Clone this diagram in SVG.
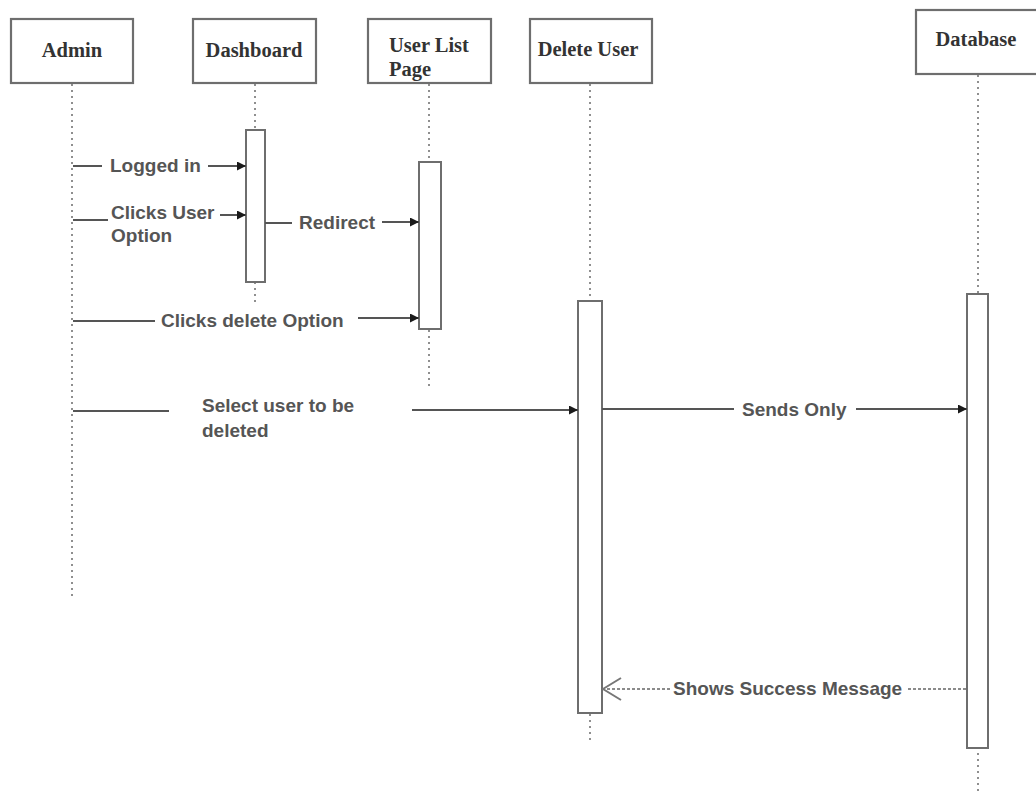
<svg xmlns="http://www.w3.org/2000/svg" width="1036" height="793" viewBox="0 0 1036 793">
  <style>
    .box { fill: #fff; stroke: #6e6e6e; stroke-width: 2.2; }
    .title { font-family: "Liberation Serif", "Times New Roman", serif; font-weight: bold; font-size: 20.5px; fill: #333; }
    .life { stroke: #8f8f8f; stroke-width: 2; stroke-dasharray: 2 4; fill: none; }
    .act { fill: #fff; stroke: #6e6e6e; stroke-width: 2; }
    .msg { stroke: #555; stroke-width: 2; fill: none; }
    .ret { stroke: #666; stroke-width: 1.6; stroke-dasharray: 3 2; fill: none; }
    .lbl { font-family: "Liberation Sans", Arial, sans-serif; font-weight: bold; font-size: 19px; fill: #555; }
  </style>
  <defs>
    <marker id="solid" viewBox="0 0 10 10" refX="10" refY="5" markerWidth="9" markerHeight="9" markerUnits="userSpaceOnUse" orient="auto">
      <path d="M0,0 L10,5 L0,10 Z" fill="#1a1a1a"/>
    </marker>
    <marker id="open" viewBox="0 0 20 24" refX="19" refY="12" markerWidth="20" markerHeight="24" markerUnits="userSpaceOnUse" orient="auto">
      <path d="M1,1 L19,12 L1,23" fill="none" stroke="#777" stroke-width="2"/>
    </marker>
  </defs>

  <rect width="1036" height="793" fill="#fff"/>

  <!-- lifelines -->
  <g id="lifelines">
    <line class="life" x1="72" y1="84" x2="72" y2="600"/>
    <line class="life" x1="255" y1="84" x2="255" y2="302"/>
    <line class="life" x1="429" y1="84" x2="429" y2="390"/>
    <line class="life" x1="590" y1="84" x2="590" y2="741"/>
    <line class="life" x1="978" y1="75" x2="978" y2="793"/>
  </g>

  <!-- participants -->
  <g id="admin">
    <rect class="box" x="11" y="19" width="122" height="64"/>
    <text class="title" x="72" y="57" text-anchor="middle">Admin</text>
  </g>
  <g id="dashboard">
    <rect class="box" x="193" y="19" width="123" height="64"/>
    <text class="title" x="254" y="57" text-anchor="middle">Dashboard</text>
  </g>
  <g id="user-list-page">
    <rect class="box" x="368" y="19" width="123" height="64"/>
    <text class="title" x="389" y="52">User List</text>
    <text class="title" x="389" y="76">Page</text>
  </g>
  <g id="delete-user">
    <rect class="box" x="530" y="19" width="122" height="64"/>
    <text class="title" x="588" y="56" text-anchor="middle">Delete User</text>
  </g>
  <g id="database">
    <rect class="box" x="916" y="10" width="124" height="64"/>
    <text class="title" x="976" y="46" text-anchor="middle">Database</text>
  </g>

  <!-- activation bars -->
  <g id="activations">
    <rect class="act" x="246" y="130" width="19" height="152"/>
    <rect class="act" x="419" y="162" width="22" height="167"/>
    <rect class="act" x="578" y="301" width="24" height="412"/>
    <rect class="act" x="967" y="294" width="21" height="454"/>
  </g>

  <!-- messages -->
  <g id="connectors">
    <line class="msg" x1="73" y1="166" x2="102" y2="166"/>
    <line class="msg" x1="208" y1="166" x2="246" y2="166" marker-end="url(#solid)"/>

    <line class="msg" x1="73" y1="220" x2="108" y2="220"/>
    <line class="msg" x1="220" y1="215" x2="246" y2="215" marker-end="url(#solid)"/>

    <line class="msg" x1="265" y1="223" x2="292" y2="223"/>
    <line class="msg" x1="382" y1="222" x2="419" y2="222" marker-end="url(#solid)"/>

    <line class="msg" x1="73" y1="321" x2="155" y2="321"/>
    <line class="msg" x1="358" y1="318" x2="419" y2="318" marker-end="url(#solid)"/>

    <line class="msg" x1="73" y1="411" x2="169" y2="411"/>
    <line class="msg" x1="412" y1="410" x2="578" y2="410" marker-end="url(#solid)"/>

    <line class="msg" x1="602" y1="409" x2="734" y2="409"/>
    <line class="msg" x1="856" y1="409" x2="967" y2="409" marker-end="url(#solid)"/>

    <line class="ret" x1="670" y1="689" x2="603" y2="689" marker-end="url(#open)"/>
    <line class="ret" x1="908" y1="689" x2="967" y2="689"/>
  </g>

  <!-- message labels -->
  <g id="labels">
    <text class="lbl" x="110" y="172">Logged in</text>
    <text class="lbl" x="111" y="219">Clicks User</text>
    <text class="lbl" x="111" y="242">Option</text>
    <text class="lbl" x="299" y="229">Redirect</text>
    <text class="lbl" x="161" y="327">Clicks delete Option</text>
    <text class="lbl" x="202" y="412">Select user to be</text>
    <text class="lbl" x="202" y="437">deleted</text>
    <text class="lbl" x="742" y="416">Sends Only</text>
    <text class="lbl" x="673" y="695">Shows Success Message</text>
  </g>
</svg>
